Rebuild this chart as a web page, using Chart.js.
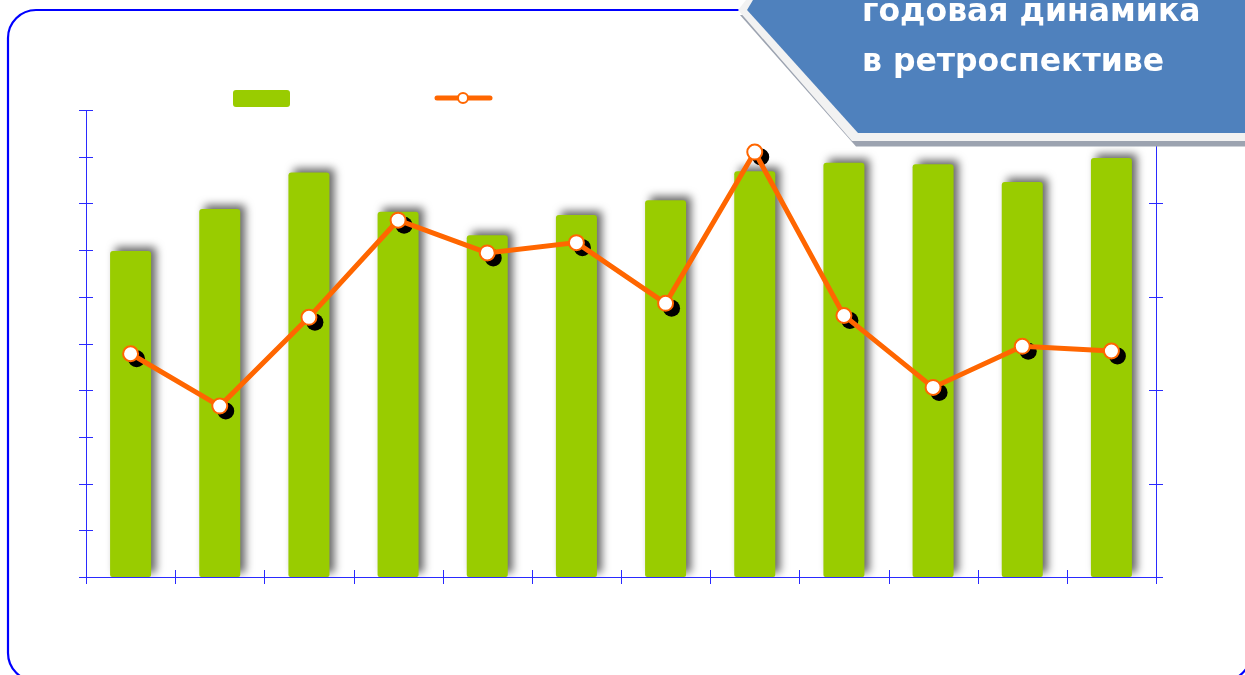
<!DOCTYPE html>
<html lang="ru">
<head>
<meta charset="utf-8">
<title>годовая динамика в ретроспективе</title>
<script src="https://cdn.jsdelivr.net/npm/chart.js@4.4.1/dist/chart.umd.min.js"></script>
<style>
  html, body { margin: 0; padding: 0; background: #fff; overflow: hidden; }
  #wrap { position: relative; width: 1245px; height: 675px; }
  #main-chart { position: absolute; left: 0; top: 0; }
  #overlay { position: absolute; left: 0; top: 0; pointer-events: none; }
</style>
</head>
<body>
<div id="wrap">
  <canvas id="main-chart" width="1245" height="675"></canvas>
  <svg id="overlay" width="1245" height="675" xmlns="http://www.w3.org/2000/svg">
    <!-- rounded blue frame -->
    <rect x="8" y="10" width="1243" height="671" rx="28" ry="28" fill="none" stroke="#0000ff" stroke-width="2.2"/>
    <!-- title banner: shadow, bevel, face -->
    <polygon points="740,15 1245,15 1245,146.5 856,146.5" fill="#9ca3b0"/>
    <polygon points="738,10 746,0 1245,0 1245,141 852,141" fill="#f2f2f2"/>
    <polygon points="747,10 753,0 1245,0 1245,133 858,133" fill="#4f81bd"/>
    <g font-family="DejaVu Sans, Verdana, sans-serif" font-weight="bold" font-size="31.5" fill="#ffffff">
      <text x="862" y="21">годовая динамика</text>
      <text x="862" y="71">в ретроспективе</text>
    </g>
  </svg>
</div>

<script>
// ---------------------------------------------------------------------------
// Data (axes carry no labels)
// ---------------------------------------------------------------------------
const CATEGORIES = ["1", "2", "3", "4", "5", "6", "7", "8", "9", "10", "11", "12"];

// green bars, left axis 0..10
const BAR_VALUES = [6.98, 7.88, 8.66, 7.82, 7.32, 7.75, 8.07, 8.69, 8.87, 8.84, 8.46, 8.97];

// orange line, right axis 0..5
const LINE_VALUES = [2.39, 1.83, 2.78, 3.82, 3.47, 3.58, 2.93, 4.55, 2.80, 2.03, 2.47, 2.42];

const LEFT_MAX = 10;
const RIGHT_MAX = 5;

const BAR_COLOUR = "#99cc00";
const LINE_COLOUR = "#ff6600";
const AXIS_COLOUR = "#2a2aff";

// ---------------------------------------------------------------------------
// Plugins
// ---------------------------------------------------------------------------

// soft grey shadow behind bars, hard black disc shifted behind markers
const shadowPlugin = {
  id: "shadows",
  beforeDatasetDraw(chart, args) {
    const ctx = chart.ctx;
    const ds = chart.data.datasets[args.index];
    ctx.save();
    if (ds.type === "bar") {
      ctx.shadowColor = "rgba(0, 0, 0, 0.6)";
      ctx.shadowBlur = 8;
      ctx.shadowOffsetX = 5;
      ctx.shadowOffsetY = -4;
    } else if (ds.isShadow) {
      ctx.translate(6, 5);
    }
  },
  afterDatasetDraw(chart) {
    chart.ctx.restore();
  },
};

// axes with tick marks crossing the axis line
const axesPlugin = {
  id: "crossAxes",
  afterDatasetsDraw(chart) {
    const { ctx, chartArea } = chart;
    const x = chart.scales.x, y = chart.scales.y, y2 = chart.scales.y2;
    const t = 7;
    ctx.save();
    ctx.strokeStyle = AXIS_COLOUR;
    ctx.lineWidth = 1;
    ctx.beginPath();
    ctx.moveTo(chartArea.left + 0.5, chartArea.top);
    ctx.lineTo(chartArea.left + 0.5, chartArea.bottom + t);
    ctx.moveTo(chartArea.right + 0.5, chartArea.top);
    ctx.lineTo(chartArea.right + 0.5, chartArea.bottom + t);
    ctx.moveTo(chartArea.left - t, chartArea.bottom + 0.5);
    ctx.lineTo(chartArea.right + t, chartArea.bottom + 0.5);
    y.ticks.forEach((tk) => {
      const py = Math.round(y.getPixelForValue(tk.value)) + 0.5;
      ctx.moveTo(chartArea.left - t, py);
      ctx.lineTo(chartArea.left + t, py);
    });
    y2.ticks.forEach((tk) => {
      const py = Math.round(y2.getPixelForValue(tk.value)) + 0.5;
      ctx.moveTo(chartArea.right - t, py);
      ctx.lineTo(chartArea.right + t, py);
    });
    const n = CATEGORIES.length;
    for (let i = 0; i <= n; i++) {
      const px = Math.round(x.left + (x.width * i) / n) + 0.5;
      ctx.moveTo(px, chartArea.bottom - t);
      ctx.lineTo(px, chartArea.bottom + t);
    }
    ctx.stroke();
    ctx.restore();
  },
};

// legend keys without text
const legendPlugin = {
  id: "keyLegend",
  afterDraw(chart) {
    const ctx = chart.ctx;
    ctx.save();
    ctx.fillStyle = BAR_COLOUR;
    ctx.beginPath();
    ctx.roundRect(233, 90, 57, 17, 3);
    ctx.fill();

    ctx.strokeStyle = LINE_COLOUR;
    ctx.lineWidth = 5;
    ctx.lineCap = "round";
    ctx.beginPath();
    ctx.moveTo(437, 98);
    ctx.lineTo(490, 98);
    ctx.stroke();

    ctx.fillStyle = "#fff";
    ctx.lineWidth = 2;
    ctx.beginPath();
    ctx.arc(463, 98, 5, 0, Math.PI * 2);
    ctx.fill();
    ctx.stroke();
    ctx.restore();
  },
};

// ---------------------------------------------------------------------------
// Chart
// ---------------------------------------------------------------------------
const ctx = document.getElementById("main-chart").getContext("2d");

new Chart(ctx, {
  data: {
    labels: CATEGORIES,
    datasets: [
      {
        type: "bar",
        data: BAR_VALUES,
        backgroundColor: BAR_COLOUR,
        borderRadius: { topLeft: 3, topRight: 3, bottomLeft: 2, bottomRight: 2 },
        borderSkipped: false,
        barPercentage: 0.46,
        categoryPercentage: 1,
        yAxisID: "y",
        order: 4,
      },
      {
        // marker shadows (same points, shifted in the plugin)
        type: "line",
        isShadow: true,
        data: LINE_VALUES,
        showLine: false,
        pointRadius: 8.5,
        pointBackgroundColor: "#000",
        pointBorderWidth: 0,
        yAxisID: "y2",
        order: 3,
      },
      {
        type: "line",
        data: LINE_VALUES,
        borderColor: LINE_COLOUR,
        borderWidth: 5,
        pointRadius: 0,
        tension: 0,
        yAxisID: "y2",
        order: 2,
      },
      {
        type: "line",
        data: LINE_VALUES,
        showLine: false,
        pointRadius: 7.5,
        pointBackgroundColor: "#fff",
        pointBorderColor: LINE_COLOUR,
        pointBorderWidth: 2,
        yAxisID: "y2",
        order: 1,
      },
    ],
  },
  options: {
    responsive: false,
    animation: false,
    devicePixelRatio: 1,
    layout: { padding: { left: 86, right: 89, top: 110, bottom: 98 } },
    plugins: {
      legend: { display: false },
      tooltip: { enabled: false },
      title: { display: false },
    },
    scales: {
      x: { display: false, offset: true },
      y: { display: false, min: 0, max: LEFT_MAX, ticks: { stepSize: 1 } },
      y2: { display: false, position: "right", min: 0, max: RIGHT_MAX, ticks: { stepSize: 1 } },
    },
  },
  plugins: [shadowPlugin, axesPlugin, legendPlugin],
});
</script>
</body>
</html>
